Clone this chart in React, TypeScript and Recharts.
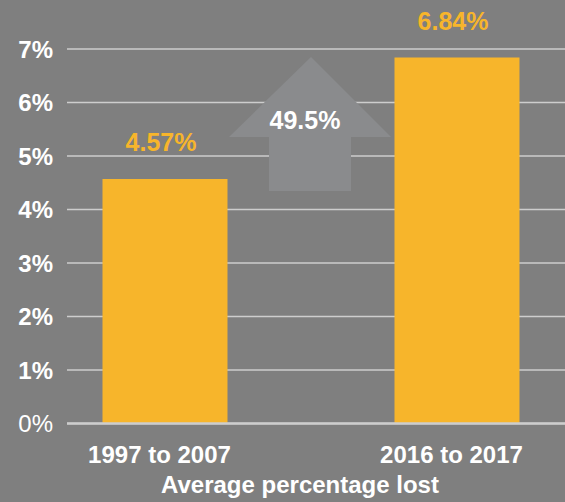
import { BarChart, Bar, XAxis, YAxis, CartesianGrid, LabelList } from 'recharts'

const categories = ['1997 to 2007', '2016 to 2017']
const lossPct = [4.57, 6.84]
const yTicks = [0, 1, 2, 3, 4, 5, 6, 7]
const changeLabel = '49.5%'
const axisTitle = 'Average percentage lost'

const COLORS = {
  bg: '#7f7f7f',
  bar: '#f7b52b',
  grid: '#cdcdcd',
  arrow: '#8a8b8d',
  text: '#ffffff',
}

const FONT = '"Liberation Sans", Arial, Helvetica, sans-serif'

const data = categories.map((name, i) => ({ x: i, name, value: lossPct[i] }))

function YTick({ x, y, payload }: any) {
  return (
    <text x={x} y={y} dy="0.355em" textAnchor="end" fill={COLORS.text}
      fontFamily={FONT} fontSize={24} fontWeight={payload.value === 0 ? 400 : 700}>
      {`${payload.value}%`}
    </text>
  )
}

export default function App() {
  return (
    <div style={{ position: 'absolute', left: 0, top: 0, width: 565, height: 502, background: COLORS.bg, overflow: 'hidden' }}>
      <BarChart width={565} height={502} data={data} margin={{ top: 49, right: 0, left: 0, bottom: 28.5 }}>
        <CartesianGrid vertical={false} stroke={COLORS.grid} strokeWidth={1.5} />
        <XAxis type="number" dataKey="x" domain={[-0.3373, 1.3682]} ticks={[0, 1]} allowDataOverflow
          height={50} tickSize={0} tickMargin={22.5} tickLine={false}
          axisLine={{ stroke: COLORS.grid, strokeWidth: 2.5 }}
          tickFormatter={(i: number) => categories[i] ?? ''}
          tick={{ fill: COLORS.text, fontFamily: FONT, fontSize: 24, fontWeight: 700, dx: -6 }} />
        <YAxis type="number" domain={[0, 7]} ticks={yTicks} width={67} tickSize={0} tickMargin={14}
          axisLine={false} tickLine={false} tick={<YTick />} />
        <Bar dataKey="value" fill={COLORS.bar} barSize={125} isAnimationActive={false}>
          <LabelList dataKey="value" position="top" offset={28} dx={-4}
            formatter={(v: any) => `${Number(v).toFixed(2)}%`}
            style={{ fill: COLORS.bar, fontFamily: FONT, fontSize: 25, fontWeight: 700 }} />
        </Bar>
      </BarChart>
      <svg width={565} height={502} style={{ position: 'absolute', left: 0, top: 0, pointerEvents: 'none' }}>
        <polygon points="311,57 391,137 351,137 351,191 269,191 269,137 229,137" fill={COLORS.arrow} />
        <text x={305} y={129} textAnchor="middle" fill={COLORS.text} fontFamily={FONT} fontSize={25} fontWeight={700}>
          {changeLabel}
        </text>
        <text x={300} y={493} textAnchor="middle" fill={COLORS.text} fontFamily={FONT} fontSize={24} fontWeight={700}>
          {axisTitle}
        </text>
      </svg>
    </div>
  )
}
